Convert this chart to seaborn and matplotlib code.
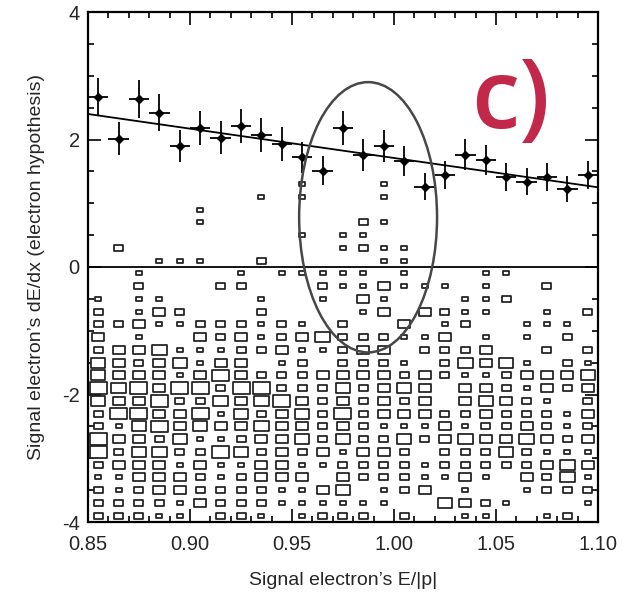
import numpy as np
import pandas as pd
import matplotlib
matplotlib.use("Agg")
import matplotlib.pyplot as plt
from matplotlib.path import Path
from matplotlib.patches import Ellipse
from matplotlib.ticker import MultipleLocator
import seaborn as sns

# bin centres in E/|p| (shared by the box histogram and the profile)
bin_x = [0.855, 0.865, 0.875, 0.885, 0.895, 0.905, 0.915, 0.925, 0.935, 0.945,
         0.955, 0.965, 0.975, 0.985, 0.995, 1.005, 1.015, 1.025, 1.035, 1.045,
         1.055, 1.065, 1.075, 1.085, 1.095]

# box histogram: one string per dE/dx bin, one digit per E/|p| bin (0 = empty)
box_y = [1.3, 1.1, 0.9, 0.7, 0.5, 0.3, 0.1,
         -0.1, -0.3, -0.5, -0.7, -0.9, -1.1, -1.3, -1.5, -1.7, -1.9,
         -2.1, -2.3, -2.5, -2.7, -2.9, -3.1, -3.3, -3.5, -3.7, -3.9]
box_rows = [
    "00000 00000 10001 00000 00000",
    "00000 00010 10001 00000 00000",
    "00000 10000 00000 00000 00000",
    "00000 10000 00021 00000 00000",
    "00000 00000 10110 00000 00000",
    "02000 00000 00121 10000 00000",
    "00011 10020 00001 10000 00000",
    "00100 00101 11110 10001 10000",
    "00200 02200 02113 11101 00200",
    "10110 00010 01031 00011 20000",
    "20132 00020 00013 03211 00102",
    "22311 22212 10200 30120 01110",
    "30100 32312 34222 11301 01020",
    "23341 11223 11233 02223 00202",
    "43234 13301 20222 10243 41021",
    "43331 35322 23333 23211 23334",
    "54535 52552 22423 43033 21323",
    "43352 24345 32323 23034 32102",
    "25533 51423 42523 33223 22213",
    "21453 43343 32321 11312 23212",
    "53324 11233 42422 42343 34323",
    "52442 25423 23133 20222 42111",
    "23331 31133 11222 21222 22343",
    "11333 21233 30322 21131 03241",
    "21233 22221 13401 23010 01222",
    "22221 32221 11111 00432 10001",
    "22211 02210 12220 20011 00120",
]

# profile (mean dE/dx per E/|p| bin) and its errors
prof_y = [2.67, 2.01, 2.64, 2.42, 1.90, 2.18, 2.03, 2.21, 2.07, 1.93,
          1.72, 1.51, 2.18, 1.76, 1.90, 1.66, 1.26, 1.44, 1.76, 1.68,
          1.41, 1.34, 1.41, 1.22, 1.44]
prof_err = [0.29, 0.26, 0.30, 0.29, 0.25, 0.27, 0.26, 0.27, 0.26, 0.26,
            0.245, 0.23, 0.27, 0.25, 0.25, 0.235, 0.21, 0.22, 0.245, 0.235,
            0.22, 0.21, 0.22, 0.20, 0.22]
half_bin = 0.005

# straight-line fit to the profile
fit_x = [0.85, 1.10]
fit_y = [2.40, 1.25]

# build long table of the non-empty cells
cells = []
for yv, row in zip(box_y, box_rows):
    for xv, ch in zip(bin_x, row.replace(" ", "")):
        if ch != "0":
            cells.append((xv, yv, int(ch)))
df = pd.DataFrame(cells, columns=["ep", "dedx", "level"])

sns.set_theme(style="ticks")
plt.rcParams["font.family"] = ["Liberation Sans", "DejaVu Sans"]
plt.rcParams["axes.unicode_minus"] = False

fig = plt.figure(figsize=(6.34, 5.92), dpi=100)
ax = fig.add_axes([88 / 634, 70 / 592, 510 / 634, 510 / 592])

# rectangular marker with the aspect of one histogram cell
rect = Path([(-1, -0.68), (1, -0.68), (1, 0.68), (-1, 0.68), (-1, -0.68)],
            [Path.MOVETO, Path.LINETO, Path.LINETO, Path.LINETO, Path.CLOSEPOLY])
box_px = {1: 6.0, 2: 9.0, 3: 12.0, 4: 14.5, 5: 17.0}
sizes = {k: (v * 0.72) ** 2 for k, v in box_px.items()}
sns.scatterplot(data=df, x="ep", y="dedx", size="level", sizes=sizes,
                marker=rect, facecolor="white", edgecolor="#1e1e1e",
                linewidth=1.25, legend=False, ax=ax, zorder=2)

ax.axhline(0, color="black", lw=1.3, zorder=3)

sns.lineplot(x=fit_x, y=fit_y, color="black", lw=1.3, ax=ax, zorder=4)

ax.errorbar(bin_x, prof_y, yerr=prof_err, xerr=half_bin, fmt="D", ms=3.8,
            color="black", elinewidth=1.3, capsize=0, zorder=5)

ax.add_patch(Ellipse((0.9873, 0.78), 0.0676, 4.24, fill=False,
                     edgecolor="#474747", lw=1.8, zorder=6))

# hand-written panel tag
ax.text(0.752, 0.772, "c)", transform=ax.transAxes, color="#c1284a",
        fontsize=70, fontweight=600, family=["Open Sans", "DejaVu Sans"],
        ha="left", va="baseline")

ax.set_xlim(0.85, 1.10)
ax.set_ylim(-4, 4)
ax.xaxis.set_major_locator(MultipleLocator(0.05))
ax.xaxis.set_minor_locator(MultipleLocator(0.01))
ax.yaxis.set_major_locator(MultipleLocator(2))
ax.yaxis.set_minor_locator(MultipleLocator(0.5))
ax.set_xticks([0.85, 0.90, 0.95, 1.00, 1.05, 1.10])
ax.set_xticklabels(["0.85", "0.90", "0.95", "1.00", "1.05", "1.10"])
ax.set_yticks([-4, -2, 0, 2, 4])
ax.set_yticklabels(["-4", "-2", "0", "2", "4"])
ax.tick_params(which="both", direction="in", top=True, right=True,
               color="black", width=1.2)
ax.tick_params(which="major", length=9.5, labelsize=14.5)
ax.tick_params(axis="x", which="major", pad=9)
ax.tick_params(axis="y", which="major", pad=6)
ax.tick_params(which="minor", length=4.5)
for sp in ax.spines.values():
    sp.set_linewidth(1.6)
    sp.set_color("black")

ax.set_xlabel("Signal electron\u2019s E/|p|", fontsize=14, labelpad=13)
ax.set_ylabel("Signal electron\u2019s dE/dx (electron hypothesis)",
              fontsize=14, labelpad=12)

fig.savefig("out.png", dpi=100)
